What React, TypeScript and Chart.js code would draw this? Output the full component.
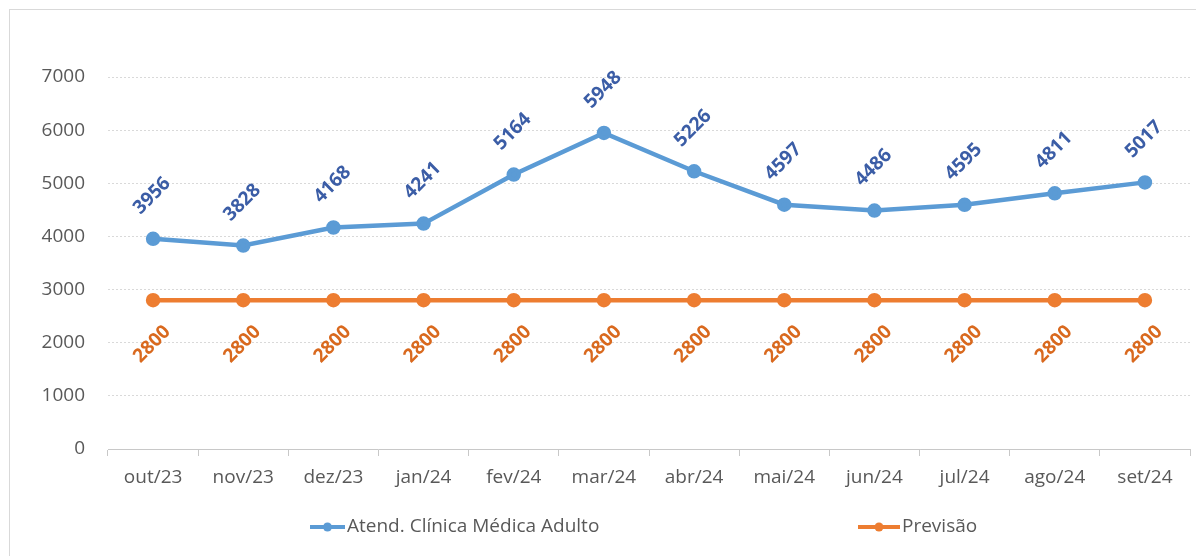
import React, { useEffect, useRef } from "react";
import { Chart, registerables } from "chart.js";

Chart.register(...registerables);

const categories = ["out/23", "nov/23", "dez/23", "jan/24", "fev/24", "mar/24", "abr/24", "mai/24", "jun/24", "jul/24", "ago/24", "set/24"];
const atendimentos = [3956, 3828, 4168, 4241, 5164, 5948, 5226, 4597, 4486, 4595, 4811, 5017];
const previsao = [2800, 2800, 2800, 2800, 2800, 2800, 2800, 2800, 2800, 2800, 2800, 2800];
const seriesNames = ["Atend. Clínica Médica Adulto", "Previsão"];
const yTicks = [0, 1000, 2000, 3000, 4000, 5000, 6000, 7000];

const BLUE = "#5B9BD5";
const ORANGE = "#ED7D31";
const BLUE_LABEL = "#3B5DA6";
const ORANGE_LABEL = "#D9691E";
const FONT = "'Open Sans', sans-serif";

const labelPlugin = {
  id: "rotatedLabels",
  afterDatasetsDraw(chart: any) {
    const ctx = chart.ctx;
    const offsets = [-43, 44];
    const colors = [BLUE_LABEL, ORANGE_LABEL];
    chart.data.datasets.forEach((ds: any, di: number) => {
      const meta = chart.getDatasetMeta(di);
      meta.data.forEach((pt: any, i: number) => {
        ctx.save();
        ctx.translate(pt.x - 1, pt.y + offsets[di]);
        ctx.rotate(-Math.PI / 4);
        ctx.font = `bold 19px ${FONT}`;
        ctx.fillStyle = colors[di];
        ctx.textAlign = "center";
        ctx.textBaseline = "middle";
        ctx.fillText(String(ds.data[i]), 0, 0);
        ctx.restore();
      });
    });
  },
};

const legendPlugin = {
  id: "excelLegend",
  afterDraw(chart: any) {
    const ctx = chart.ctx;
    const y = 519;
    const items = [
      { x1: 302, x2: 337, color: BLUE, text: seriesNames[0] },
      { x1: 850, x2: 892, color: ORANGE, text: seriesNames[1] },
    ];
    items.forEach((it) => {
      ctx.save();
      ctx.strokeStyle = it.color;
      ctx.lineWidth = 4;
      ctx.beginPath();
      ctx.moveTo(it.x1, y);
      ctx.lineTo(it.x2, y);
      ctx.stroke();
      ctx.fillStyle = it.color;
      ctx.beginPath();
      ctx.arc((it.x1 + it.x2) / 2, y, 4.5, 0, Math.PI * 2);
      ctx.fill();
      ctx.font = `19px ${FONT}`;
      ctx.fillStyle = "#595959";
      ctx.textAlign = "left";
      ctx.textBaseline = "middle";
      ctx.fillText(it.text, it.x2 + 2, y);
      ctx.restore();
    });
  },
};

export default function App() {
  const canvasRef = useRef<HTMLCanvasElement | null>(null);

  useEffect(() => {
    if (!canvasRef.current) return;
    const chart = new Chart(canvasRef.current, {
      type: "line",
      data: {
        labels: categories,
        datasets: [
          {
            label: seriesNames[0],
            data: atendimentos,
            borderColor: BLUE,
            backgroundColor: BLUE,
            borderWidth: 4.5,
            pointRadius: 5,
            pointBackgroundColor: BLUE,
            pointBorderColor: BLUE,
            tension: 0,
          },
          {
            label: seriesNames[1],
            data: previsao,
            borderColor: ORANGE,
            backgroundColor: ORANGE,
            borderWidth: 4.5,
            pointRadius: 5,
            pointBackgroundColor: ORANGE,
            pointBorderColor: ORANGE,
            tension: 0,
          },
        ],
      },
      options: {
        animation: false,
        responsive: true,
        maintainAspectRatio: false,
        layout: { padding: { top: 69, right: 14, left: 0, bottom: 47 } },
        plugins: {
          legend: { display: false },
          tooltip: { enabled: false },
        },
        scales: {
          x: {
            offset: true,
            afterFit: (s: any) => {
              s.height = 60;
            },
            grid: {
              offset: true,
              drawOnChartArea: false,
              drawTicks: true,
              tickLength: 7,
              color: "#c8c8c8",
            },
            border: { display: true, color: "#c8c8c8", width: 1 },
            ticks: {
              color: "#595959",
              font: { family: FONT, size: 19 },
              padding: 10,
              maxRotation: 0,
              autoSkip: false,
            },
          },
          y: {
            min: 0,
            max: 7000,
            afterFit: (s: any) => {
              s.width = 100;
            },
            afterBuildTicks: (s: any) => {
              s.ticks = yTicks.map((v) => ({ value: v }));
            },
            grid: { color: "#d9d9d9", drawTicks: false, lineWidth: 1 },
            border: { display: false, dash: [2, 2] },
            ticks: {
              color: "#595959",
              font: { family: FONT, size: 19 },
              padding: 23,
              callback: (v: any) => String(v),
            },
          },
        },
      },
      plugins: [labelPlugin, legendPlugin],
    });
    return () => chart.destroy();
  }, []);

  return (
    <div style={{ width: 1196, height: 548, position: "relative", overflow: "hidden", background: "#fff" }}>
      <div
        style={{
          position: "absolute",
          left: 1,
          top: 1,
          width: 1400,
          height: 800,
          border: "1px solid #d9d9d9",
          boxSizing: "border-box",
        }}
      />
      <div style={{ position: "absolute", left: 0, top: 0, width: 1196, height: 548 }}>
        <canvas ref={canvasRef} />
      </div>
    </div>
  );
}
